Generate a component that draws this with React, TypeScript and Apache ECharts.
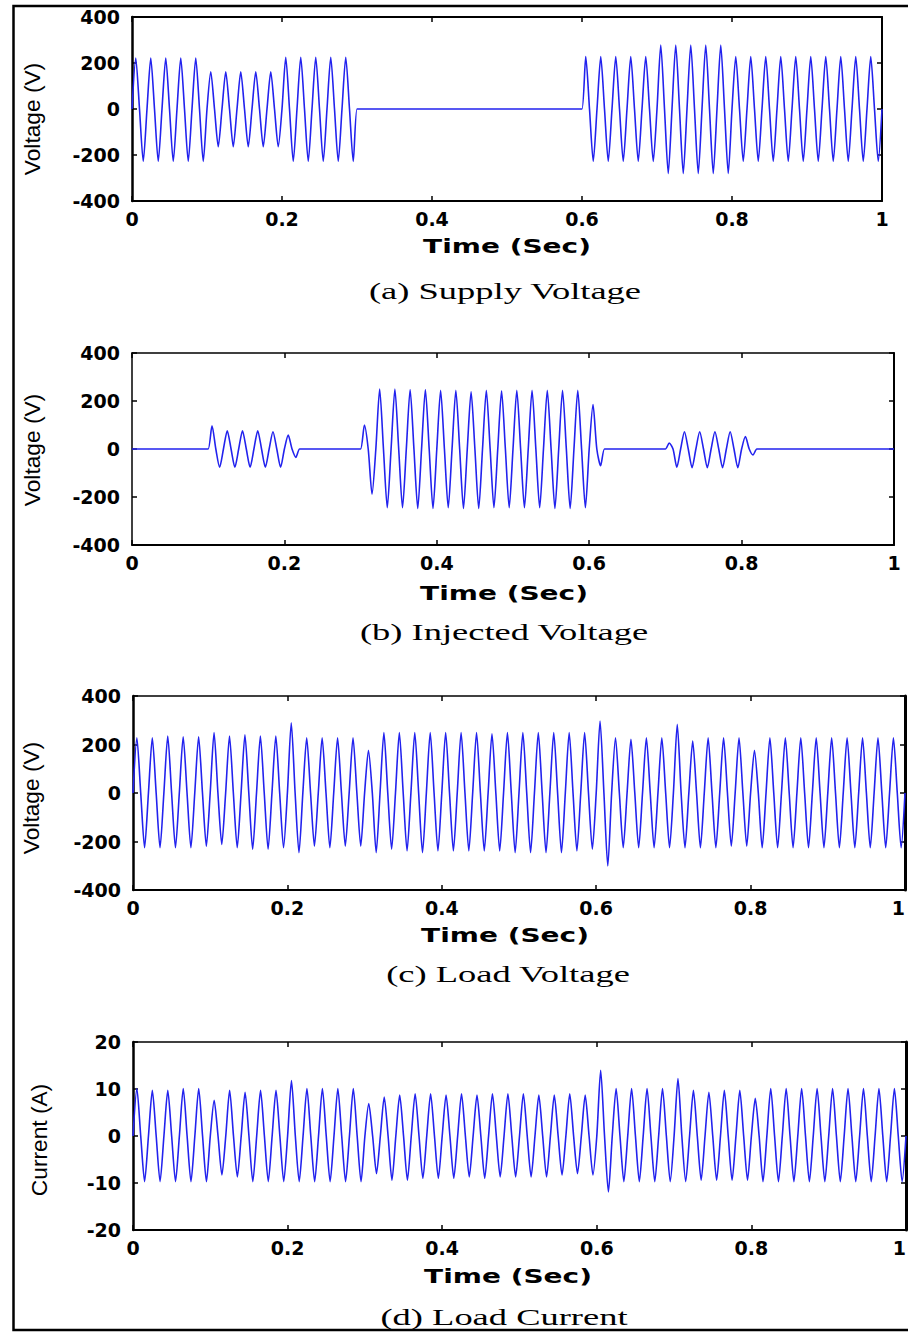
import React, { useEffect, useRef } from "react";
import * as echarts from "echarts";

// Half-cycle length of the 50 Hz waveforms (s)
const halfCycle = 0.01;

// Signed peak of every half-cycle (0-1 s, 100 half-cycles)
const supplyPeaks = [
  222, -228, 222, -228, 222, -228, 222, -228, 222, -228,
  162, -164, 162, -164, 162, -164, 162, -164, 162, -164,
  225, -228, 225, -228, 225, -228, 225, -228, 225, -228,
  0, 0, 0, 0, 0, 0, 0, 0, 0, 0,
  0, 0, 0, 0, 0, 0, 0, 0, 0, 0,
  0, 0, 0, 0, 0, 0, 0, 0, 0, 0,
  228, -228, 228, -228, 228, -228, 228, -228, 228, -228,
  278, -280, 278, -280, 278, -280, 278, -280, 278, -280,
  228, -228, 228, -228, 228, -228, 228, -228, 228, -228,
  228, -228, 228, -228, 228, -228, 228, -228, 228, -228,
];

const injectedPeaks = [
  0, 0, 0, 0, 0, 0, 0, 0, 0, 0,
  97, -76, 76, -76, 76, -76, 76, -76, 72, -76,
  58, -35, 0, 0, 0, 0, 0, 0, 0, 0,
  100, -188, 250, -245, 250, -245, 248, -248, 248, -248,
  245, -245, 245, -248, 238, -248, 245, -245, 243, -245,
  245, -245, 245, -245, 245, -248, 245, -248, 245, -245,
  185, -70, 0, 0, 0, 0, 0, 0, 0, 0,
  25, -76, 72, -78, 72, -78, 72, -78, 72, -78,
  52, -25, 0, 0, 0, 0, 0, 0, 0, 0,
  0, 0, 0, 0, 0, 0, 0, 0, 0, 0,
];

const loadVoltagePeaks = [
  228, -226, 228, -226, 235, -226, 232, -226, 232, -219,
  249, -212, 235, -226, 240, -232, 235, -232, 235, -226,
  290, -246, 228, -219, 228, -226, 228, -219, 228, -219,
  176, -246, 249, -232, 249, -239, 249, -246, 249, -239,
  249, -239, 249, -239, 249, -239, 244, -239, 249, -246,
  249, -246, 249, -246, 249, -246, 249, -239, 249, -232,
  297, -301, 228, -226, 221, -226, 228, -226, 228, -226,
  283, -226, 214, -226, 228, -226, 228, -219, 228, -219,
  176, -226, 228, -226, 228, -226, 228, -226, 228, -226,
  228, -226, 228, -226, 228, -226, 228, -226, 228, -226,
];

const loadCurrentPeaks = [
  10.1, -9.7, 9.7, -9.7, 9.7, -9.7, 10.1, -9.7, 10.1, -9.7,
  7.6, -8.3, 9.7, -8.7, 9.3, -9.7, 9.7, -9.7, 9.7, -9.7,
  11.8, -9.7, 10.1, -9.7, 10.1, -9.7, 10.1, -9.7, 10.1, -9.7,
  6.9, -8.0, 8.3, -9.4, 8.7, -9.4, 9.0, -9.0, 9.0, -9.0,
  8.7, -9.0, 9.0, -8.7, 8.7, -9.0, 9.0, -8.7, 9.0, -8.7,
  9.0, -8.7, 8.7, -8.7, 8.7, -8.3, 9.0, -8.0, 8.7, -8.3,
  14.0, -11.9, 10.1, -9.7, 10.1, -9.7, 10.1, -9.7, 10.1, -9.7,
  12.2, -9.7, 9.7, -9.4, 9.3, -9.4, 9.7, -9.4, 9.7, -9.4,
  8.0, -9.7, 10.1, -9.7, 10.1, -9.7, 10.1, -9.7, 10.1, -9.7,
  10.1, -9.7, 10.1, -9.7, 10.1, -9.7, 10.1, -9.7, 10.1, -9.7,
];

const captions = [
  "(a) Supply Voltage",
  "(b) Injected Voltage",
  "(c) Load Voltage",
  "(d) Load Current",
];
const yNames = ["Voltage (V)", "Voltage (V)", "Voltage (V)", "Current (A)"];
const xName = "Time (Sec)";
const timeRange = [0, 1, 0.2];
const voltageRange = [-400, 400, 200];
const currentRange = [-20, 20, 10];

// Each half-cycle: zero crossing at its start, its peak in the middle
function toWave(peaks: number[]): [number, number][] {
  const pts: [number, number][] = [];
  peaks.forEach((p, k) => {
    pts.push([+(k * halfCycle).toFixed(4), 0]);
    pts.push([+(k * halfCycle + halfCycle / 2).toFixed(4), p]);
  });
  pts.push([+(peaks.length * halfCycle).toFixed(4), 0]);
  return pts;
}

const WAVE_COLOR = "#2222ee";
const TICK_FONT = "'DejaVu Sans', sans-serif";

export default function App() {
  const ref = useRef<HTMLDivElement>(null);

  useEffect(() => {
    if (!ref.current) return;
    const chart = echarts.init(ref.current, undefined, { renderer: "svg" });

    const panels = [
      { peaks: supplyPeaks, range: voltageRange, grid: { left: 132, top: 17, width: 750, height: 184 }, nameX: 33, nameY: 119, timeX: 507, timeY: 246, capX: 505, capY: 291, rightW: 2, alignMax: false },
      { peaks: injectedPeaks, range: voltageRange, grid: { left: 132, top: 353, width: 762, height: 192 }, nameX: 33, nameY: 450, timeX: 504, timeY: 593, capX: 504, capY: 632, rightW: 2, alignMax: false },
      { peaks: loadVoltagePeaks, range: voltageRange, grid: { left: 133, top: 696, width: 772, height: 194 }, nameX: 32, nameY: 798, timeX: 505, timeY: 935, capX: 508, capY: 974, rightW: 3, alignMax: true },
      { peaks: loadCurrentPeaks, range: currentRange, grid: { left: 133, top: 1042, width: 773, height: 188 }, nameX: 40, nameY: 1140, timeX: 508, timeY: 1276, capX: 504, capY: 1317, rightW: 3, alignMax: true },
    ];

    const grid: any[] = [];
    const xAxis: any[] = [];
    const yAxis: any[] = [];
    const series: any[] = [];
    const graphic: any[] = [
      {
        type: "rect",
        shape: { x: 13.5, y: 6, width: 930, height: 1324 },
        style: { fill: "none", stroke: "#000", lineWidth: 2.5 },
        silent: true,
      },
    ];

    panels.forEach((p, i) => {
      grid.push({ ...p.grid, outerBoundsMode: "none", containLabel: false });
      const axisLine = (w: number) => ({ show: true, onZero: false, lineStyle: { color: "#000", width: w } });
      const tick = { show: true, inside: true, length: 5, lineStyle: { color: "#000", width: 1.5 } };
      const label = {
        color: "#000",
        fontFamily: TICK_FONT,
        fontWeight: "bold",
        fontSize: 19,
      };
      xAxis.push({
        gridIndex: i, type: "value", position: "bottom",
        min: timeRange[0], max: timeRange[1], interval: timeRange[2],
        axisLine: axisLine(2), axisTick: tick, splitLine: { show: false },
        axisLabel: { ...label, margin: 8, alignMaxLabel: p.alignMax ? "right" : undefined },
      });
      xAxis.push({
        gridIndex: i, type: "value", position: "top",
        min: timeRange[0], max: timeRange[1], interval: timeRange[2],
        axisLine: axisLine(i === 0 ? 2 : 1.5), axisTick: tick, splitLine: { show: false },
        axisLabel: { show: false },
      });
      yAxis.push({
        gridIndex: i, type: "value", position: "left",
        min: p.range[0], max: p.range[1], interval: p.range[2],
        axisLine: axisLine(i === 1 ? 1.5 : 2.5), axisTick: tick, splitLine: { show: false },
        axisLabel: { ...label, margin: 12 },
      });
      yAxis.push({
        gridIndex: i, type: "value", position: "right",
        min: p.range[0], max: p.range[1], interval: p.range[2],
        axisLine: axisLine(p.rightW), axisTick: tick, splitLine: { show: false },
        axisLabel: { show: false },
      });
      series.push({
        type: "line",
        xAxisIndex: 2 * i,
        yAxisIndex: 2 * i,
        data: toWave(p.peaks),
        showSymbol: false,
        smooth: 0.25,
        lineStyle: { color: WAVE_COLOR, width: 1.6 },
        z: 1,
      });

      graphic.push({
        type: "text", x: p.nameX, y: p.nameY, rotation: Math.PI / 2,
        scaleX: 1.42, scaleY: 1.35, silent: true,
        style: {
          text: yNames[i], fill: "#000", fontFamily: "'Liberation Sans', Arial, sans-serif",
          fontSize: 16, align: "center", verticalAlign: "middle",
        },
      });
      graphic.push({
        type: "text", x: p.timeX, y: p.timeY, scaleX: 1.4, silent: true,
        style: {
          text: xName, fill: "#000", fontFamily: TICK_FONT, fontWeight: "bold",
          fontSize: 20, align: "center", verticalAlign: "middle",
        },
      });
      graphic.push({
        type: "text", x: p.capX, y: p.capY, scaleX: 1.52, silent: true,
        style: {
          text: captions[i], fill: "#000", fontFamily: "'Liberation Serif', 'Times New Roman', serif",
          fontSize: 24, align: "center", verticalAlign: "middle",
        },
      });
    });

    chart.setOption({
      animation: false,
      backgroundColor: "#fff",
      grid,
      xAxis,
      yAxis,
      series,
      graphic,
    });

    return () => chart.dispose();
  }, []);

  return (
    <div
      ref={ref}
      style={{ position: "absolute", left: 0, top: 0, width: 908, height: 1332 }}
    />
  );
}
